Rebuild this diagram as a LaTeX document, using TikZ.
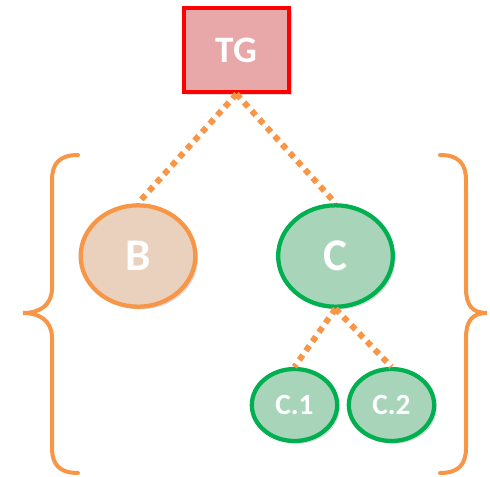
\documentclass[tikz,border=0pt]{standalone}
\usepackage{fontspec}
\setmainfont{Carlito}
\usetikzlibrary{shapes.geometric,shadows}

\definecolor{lineorange}{RGB}{247,150,70}
\definecolor{boxred}{RGB}{255,0,0}
\definecolor{boxpink}{RGB}{232,168,170}
\definecolor{leafgreen}{RGB}{0,176,80}
\definecolor{leafmint}{RGB}{168,213,186}
\definecolor{peach}{RGB}{234,209,190}

\tikzset{
    softshadow/.style={drop shadow={opacity=0.3,shadow xshift=2pt,shadow yshift=-2pt}},
    topbox/.style={rectangle,draw=boxred,fill=boxpink,line width=3pt,minimum width=79pt,minimum height=63pt,softshadow,text=white,font=\fontsize{28}{30}\selectfont\bfseries},
    bignode/.style={ellipse,line width=3.2pt,minimum width=86pt,minimum height=76pt,softshadow,text=white,font=\fontsize{34}{36}\selectfont\bfseries},
    smallnode/.style={ellipse,draw=leafgreen,fill=leafmint,line width=3.2pt,minimum width=64pt,minimum height=54pt,softshadow,text=white,font=\fontsize{22}{24}\selectfont\bfseries},
    link/.style={draw=lineorange,line width=4.5pt,dash pattern={on 4.5pt off 4pt}},
    bracket/.style={draw=lineorange,line width=3pt,line cap=round}
}

\begin{document}
\begin{tikzpicture}[x=0.75pt,y=0.75pt,yscale=-1,xscale=1]
    \useasboundingbox (0,0) rectangle (490,476);

    % Text Node
    \node [topbox] (tg) at (236.5,50) {TG};
    % Text Node
    \node [bignode,draw=lineorange,fill=peach] (b) at (138,256) {B};
    % Text Node
    \node [bignode,draw=leafgreen,fill=leafmint] (c) at (335.5,256) {C};
    % Text Node
    \node [smallnode] (c1) at (294.5,405) {C.1};
    % Text Node
    \node [smallnode] (c2) at (391.5,405) {C.2};

    % Connectors
    \draw [link] (tg.south) -- (b.north);
    \draw [link] (tg.south) -- (c.north);
    \draw [link] (c.south) -- (c1.north);
    \draw [link] (c.south) -- (c2.north);

    %Shape: Brace [left]
    \draw [bracket] (78,155) .. controls (60,155) and (52,163) .. (52,180) -- (52,288) .. controls (52,305) and (40,313) .. (23,313) .. controls (40,313) and (52,321) .. (52,338) -- (52,448) .. controls (52,465) and (60,473) .. (78,473) ;
    %Shape: Brace [right]
    \draw [bracket] (440,155) .. controls (458,155) and (466,163) .. (466,180) -- (466,288) .. controls (466,305) and (472,313) .. (487,313) .. controls (472,313) and (466,321) .. (466,338) -- (466,448) .. controls (466,465) and (458,473) .. (440,473) ;
\end{tikzpicture}
\end{document}
